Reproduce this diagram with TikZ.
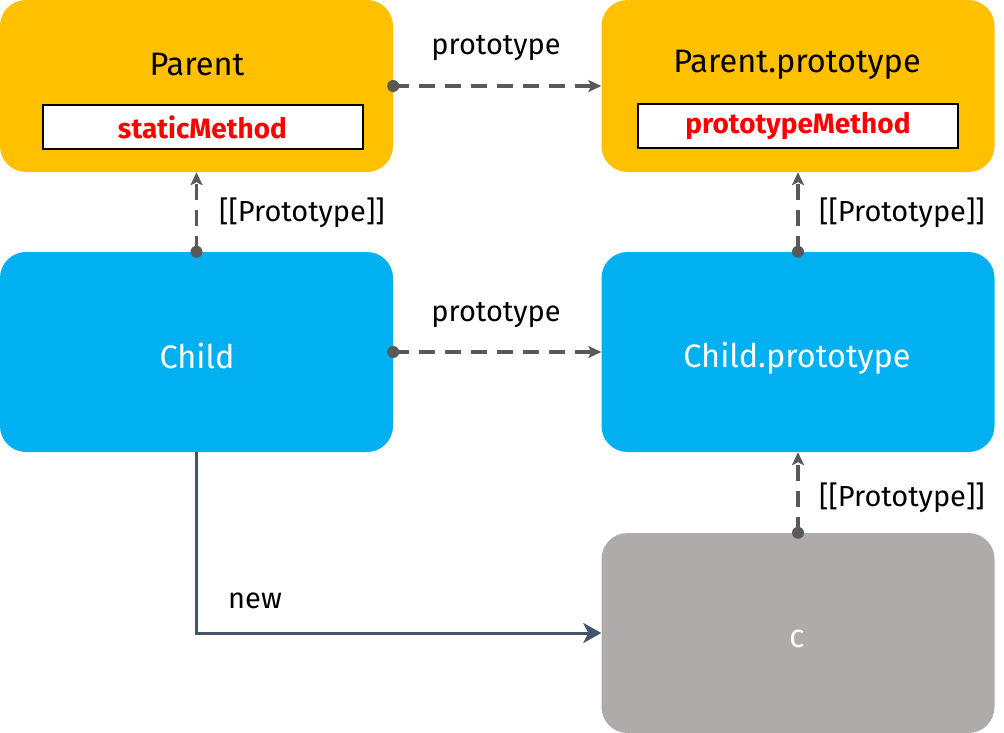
\documentclass[tikz,border=0pt]{standalone}
\usepackage{fontspec}
\setmainfont{Fira Sans}
\usetikzlibrary{arrows.meta}
\definecolor{orangebox}{HTML}{FFC000}
\definecolor{bluebox}{HTML}{00B0F0}
\definecolor{graybox}{HTML}{AFABAB}
\definecolor{dashgray}{HTML}{595959}
\definecolor{newline}{HTML}{44546A}
\definecolor{methodred}{HTML}{FF0000}
\tikzset{
  bigbox/.style={rectangle, rounded corners=26pt, minimum width=393pt, draw=none, inner sep=0pt},
  methodbox/.style={rectangle, draw=black, line width=2pt, fill=white, minimum width=320pt, minimum height=44pt, inner sep=0pt, text=methodred, font=\fontsize{28}{31}\selectfont\bfseries},
  titletext/.style={font=\fontsize{32.5}{36}\selectfont, inner sep=0pt},
  labeltext/.style={font=\fontsize{29}{33}\selectfont, inner sep=0pt, text=black},
  dasharrow/.style={draw=dashgray, line width=3.5pt, dash pattern=on 16pt off 10pt, -{Stealth[length=13pt,width=12pt,inset=3pt]}},
  dotmark/.style={fill=dashgray},
  newarrow/.style={draw=newline, line width=3pt, -{Stealth[length=18pt,width=20pt,inset=5pt]}},
}
\begin{document}
\begin{tikzpicture}[x=1pt,y=-1pt]
\useasboundingbox[fill=white] (0,0) rectangle (1004,733);
% boxes
\node[bigbox, fill=orangebox, minimum height=172pt] (parent) at (196.5,86) {};
\node[bigbox, fill=orangebox, minimum height=172pt] (pproto) at (798,86) {};
\node[bigbox, fill=bluebox, minimum height=200pt] (child) at (196.5,352) {};
\node[bigbox, fill=bluebox, minimum height=200pt] (cproto) at (798,352) {};
\node[bigbox, fill=graybox, minimum height=200pt] (c) at (798,633) {};
% titles
\node[titletext] (parenttitle) at (197,65) {Parent};
\node[titletext] (pprototitle) at (797,65) {Parent.prototype};
\node[titletext, text=white] (childtitle) at (197,356) {Child};
\node[titletext, text=white] (cprototitle) at (797,358) {Child.prototype};
\node[titletext, text=white] (ctitle) at (797,639) {c};
% method boxes
\node[methodbox] (static) at (202.5,127) {staticMethod};
\node[methodbox] (protomethod) at (798,126) {prototypeMethod};
% dashed connectors
\draw[dasharrow] (parent.east) -- (pproto.west);
\draw[dasharrow] (child.east) -- (cproto.west);
\draw[dasharrow] (child.north) -- (parent.south);
\draw[dasharrow] (cproto.north) -- (pproto.south);
\draw[dasharrow] (c.north) -- (cproto.south);
\fill[dotmark] (parent.east) circle (6pt);
\fill[dotmark] (child.east) circle (6pt);
\fill[dotmark] (child.north) circle (6pt);
\fill[dotmark] (cproto.north) circle (6pt);
\fill[dotmark] (c.north) circle (6pt);
% new connector
\draw[newarrow] (child.south) |- (c.west);
% labels
\node[labeltext] (lbl1) at (496,48) {prototype};
\node[labeltext] (lbl2) at (496,315) {prototype};
\node[labeltext, anchor=west] (lbl3) at (219,213) {[[Prototype]]};
\node[labeltext, anchor=west] (lbl4) at (819,213) {[[Prototype]]};
\node[labeltext, anchor=west] (lbl5) at (819,498) {[[Prototype]]};
\node[labeltext, anchor=west] (lbl6) at (228,601) {new};
\end{tikzpicture}
\end{document}
